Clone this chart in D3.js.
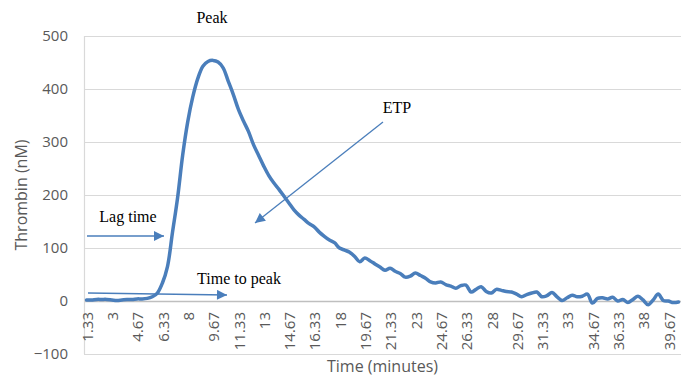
<!DOCTYPE html>
<html>
<head>
<meta charset="utf-8">
<script src="https://cdn.jsdelivr.net/npm/d3@7"></script>
<style>
  body { margin: 0; background: #fff; }
  svg { display: block; }
</style>
</head>
<body>
<div id="chart"></div>
<script>
// time points (minutes), one reading every 20 s
const times = ["1.33","1.67","2","2.33","2.67","3","3.33","3.67","4","4.33",
  "4.67","5","5.33","5.67","6","6.33","6.67","7","7.33","7.67",
  "8","8.33","8.67","9","9.33","9.67","10","10.33","10.67","11",
  "11.33","11.67","12","12.33","12.67","13","13.33","13.67","14","14.33",
  "14.67","15","15.33","15.67","16","16.33","16.67","17","17.33","17.67",
  "18","18.33","18.67","19","19.33","19.67","20","20.33","20.67","21",
  "21.33","21.67","22","22.33","22.67","23","23.33","23.67","24","24.33",
  "24.67","25","25.33","25.67","26","26.33","26.67","27","27.33","27.67",
  "28","28.33","28.67","29","29.33","29.67","30","30.33","30.67","31",
  "31.33","31.67","32","32.33","32.67","33","33.33","33.67","34","34.33",
  "34.67","35","35.33","35.67","36","36.33","36.67","37","37.33","37.67",
  "38","38.33","38.67","39","39.33","39.67","40","40.33"];

// thrombin (nM)
const thrombin = [2,2,3,3,3,2,1,2,3,3,
  4,4,5,8,15,34,65,130,195,275,
  338,385,420,443,452,454,451,440,415,390,
  362,340,320,295,275,255,237,223,211,198,
  185,172,162,154,146,140,130,122,115,110,
  100,96,92,84,74,81,76,70,64,58,
  62,56,52,45,47,53,48,43,36,34,
  36,31,28,24,29,30,17,22,27,18,
  15,22,20,18,17,13,8,12,15,17,
  8,10,16,8,1,6,11,8,9,13,
  -4,5,6,4,7,0,3,-3,3,9,
  2,-7,2,13,1,0,-3,-2];

// labels shown on the category axis
const xTickLabels = ["1.33","3","4.67","6.33","8","9.67","11.33","13","14.67","16.33",
  "18","19.67","21.33","23","24.67","26.33","28","29.67","31.33","33",
  "34.67","36.33","38","39.67"];

const yTicks = [-100, 0, 100, 200, 300, 400, 500];

const width = 681, height = 378;
const margin = {top: 36, right: 0, bottom: 24, left: 84};
const plotBottom = 354;

const svg = d3.select("#chart")
    .append("svg")
    .attr("width", width)
    .attr("height", height);

const x = d3.scaleBand()
    .domain(times)
    .range([margin.left, width - margin.right]);

const y = d3.scaleLinear()
    .domain([-100, 500])
    .range([plotBottom, margin.top]);

const axisFont = "'Open Sans', 'DejaVu Sans', sans-serif";
const noteFont = "'Liberation Serif', 'Times New Roman', serif";
const blue = "#4a7ebb";

// gridlines
svg.append("g")
    .selectAll("line")
    .data(yTicks)
    .enter()
    .append("line")
    .attr("x1", margin.left)
    .attr("x2", width - margin.right)
    .attr("y1", d => Math.round(y(d)) + 0.5)
    .attr("y2", d => Math.round(y(d)) + 0.5)
    .attr("stroke", d => d === 0 ? "#bfbfbf" : "#d9d9d9")
    .attr("stroke-width", d => d === 0 ? 1.5 : 1.2);

// left axis line
svg.append("line")
    .attr("x1", margin.left + 0.5)
    .attr("x2", margin.left + 0.5)
    .attr("y1", y(500))
    .attr("y2", y(-100))
    .attr("stroke", "#d9d9d9")
    .attr("stroke-width", 1.2);

// y tick labels
const yAxis = d3.axisLeft(y).tickValues(yTicks).tickSize(0).tickPadding(16);
const gy = svg.append("g")
    .attr("transform", `translate(${margin.left},0)`)
    .call(yAxis);
gy.select(".domain").remove();
gy.selectAll("text")
    .attr("font-family", axisFont)
    .attr("font-size", "15px")
    .attr("fill", "#595959");

// x tick labels, rotated, hanging below the zero line
const xAxis = d3.axisBottom(x).tickValues(xTickLabels).tickSize(0).tickPadding(0);
const gx = svg.append("g")
    .attr("transform", `translate(0,${y(0)})`)
    .call(xAxis);
gx.select(".domain").remove();
gx.selectAll("text")
    .attr("font-family", axisFont)
    .attr("font-size", "15px")
    .attr("fill", "#595959")
    .attr("transform", "rotate(-90)")
    .attr("text-anchor", "end")
    .attr("x", -11)
    .attr("y", 1)
    .attr("dy", "0.35em");

// axis titles
svg.append("text")
    .attr("x", (margin.left + width) / 2)
    .attr("y", 372)
    .attr("text-anchor", "middle")
    .attr("font-family", axisFont)
    .attr("font-size", "16px")
    .attr("fill", "#595959")
    .text("Time (minutes)");

svg.append("text")
    .attr("transform", `translate(27,${(y(500) + y(-100)) / 2}) rotate(-90)`)
    .attr("text-anchor", "middle")
    .attr("font-family", axisFont)
    .attr("font-size", "16px")
    .attr("fill", "#595959")
    .text("Thrombin (nM)");

// the curve
const line = d3.line()
    .x((d, i) => x(times[i]) + x.bandwidth() / 2)
    .y(d => y(d))
    .curve(d3.curveCatmullRom.alpha(0.5));

svg.append("path")
    .datum(thrombin)
    .attr("fill", "none")
    .attr("stroke", blue)
    .attr("stroke-width", 3.5)
    .attr("stroke-linejoin", "round")
    .attr("stroke-linecap", "round")
    .attr("d", line);

// annotations
svg.append("defs").append("marker")
    .attr("id", "head")
    .attr("viewBox", "0 0 10 10")
    .attr("refX", 10)
    .attr("refY", 5)
    .attr("markerWidth", 13)
    .attr("markerHeight", 10)
    .attr("markerUnits", "userSpaceOnUse")
    .attr("orient", "auto")
    .append("path")
    .attr("d", "M0,0L10,5L0,10z")
    .attr("fill", blue);

const arrows = [
    {x1: 87, y1: 236, x2: 164, y2: 236},
    {x1: 88, y1: 293, x2: 227, y2: 295},
    {x1: 383, y1: 122, x2: 255, y2: 223}
];
svg.append("g")
    .selectAll("line")
    .data(arrows)
    .enter()
    .append("line")
    .attr("x1", d => d.x1)
    .attr("y1", d => d.y1)
    .attr("x2", d => d.x2)
    .attr("y2", d => d.y2)
    .attr("stroke", blue)
    .attr("stroke-width", 1.3)
    .attr("marker-end", "url(#head)");

const notes = [
    {text: "Peak", x: 212, y: 23},
    {text: "ETP", x: 397, y: 113},
    {text: "Lag time", x: 128, y: 222},
    {text: "Time to peak", x: 239, y: 284}
];
svg.append("g")
    .selectAll("text")
    .data(notes)
    .enter()
    .append("text")
    .attr("x", d => d.x)
    .attr("y", d => d.y)
    .attr("text-anchor", "middle")
    .attr("font-family", noteFont)
    .attr("font-size", "16px")
    .attr("fill", "#000")
    .text(d => d.text);
</script>
</body>
</html>
